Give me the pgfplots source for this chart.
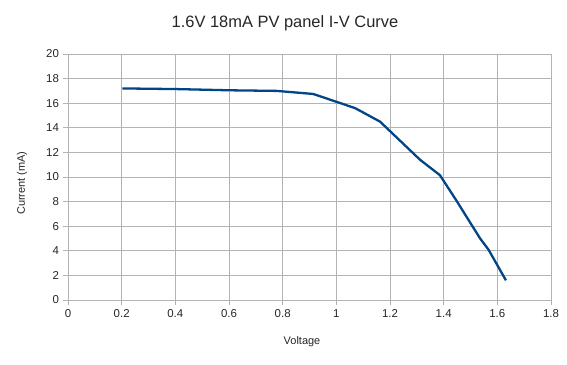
\documentclass[border=0pt]{standalone}
\usepackage{fontspec}
\setmainfont{Liberation Sans}
\usepackage{pgfplots}
\pgfplotsset{compat=1.18}
\definecolor{serblue}{HTML}{004586}
\definecolor{gridg}{HTML}{B3B3B3}
\begin{document}
\begin{tikzpicture}
\path[use as bounding box] (-68bp,-65bp) rectangle (499bp,300bp);
\begin{axis}[
  at={(0,0)}, anchor=south west,
  scale only axis, width=483bp, height=246bp,
  xmin=0, xmax=1.8, ymin=0, ymax=20,
  xtick={0,0.2,...,1.8}, ytick={0,2,...,20},
  grid=major,
  major grid style={gridg, line width=0.8pt},
  axis line style={gridg, line width=0.8pt},
  every tick/.style={gridg, line width=0.8pt},
  tick align=outside, major tick length=5bp,
  tick pos=left,
  axis x line*=bottom, axis y line*=left,
  ticklabel style={font=\fontsize{11.5}{13}\selectfont, text=black!85},
  /pgf/number format/assume math mode=true,
  /pgf/number format/fixed,
  xticklabel style={yshift=-1bp},
  yticklabel style={xshift=-0.5bp},
]
\addplot[serblue, line width=2.3pt, line join=round] coordinates {
(0.203,17.2) (0.4,17.15) (0.6,17.05) (0.778,17.0) (0.914,16.75)
(1.07,15.6) (1.163,14.5) (1.312,11.4) (1.386,10.15) (1.45,8.0)
(1.50,6.25) (1.536,5.0) (1.567,4.1) (1.632,1.6)
};
\end{axis}
\node[font=\fontsize{16.5}{19}\selectfont, text=black!85] at (217bp,277bp) {1.6V 18mA PV panel I-V Curve};
\node[font=\fontsize{11}{13}\selectfont, text=black!85] at (234bp,-42bp) {Voltage};
\node[font=\fontsize{11}{13}\selectfont, text=black!85, rotate=90] at (-46bp,117bp) {Current (mA)};
\end{tikzpicture}
\end{document}
